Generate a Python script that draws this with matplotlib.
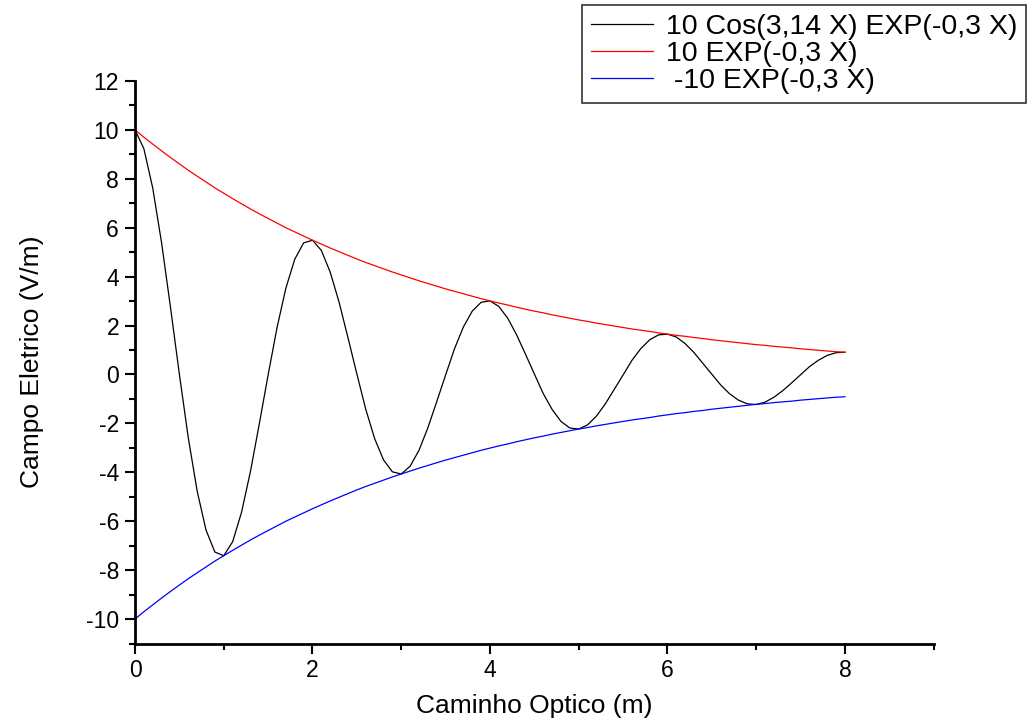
import numpy as np
import matplotlib.pyplot as plt

plt.rcParams['font.family'] = ['Liberation Sans', 'DejaVu Sans']
plt.rcParams['axes.unicode_minus'] = False

# Dados: caminho optico de 0 a 8 m, passo 0,1
x = np.linspace(0, 8, 81)

campo = [10.00, 9.23, 7.62, 5.37, 2.74, 0.01, -2.58, -4.76, -6.36, -7.26,
         -7.41, -6.84, -5.64, -3.98, -2.03, -0.02, 1.91, 3.53, 4.71, 5.38,
         5.49, 5.07, 4.18, 2.95, 1.50, 0.02, -1.42, -2.62, -3.49, -3.98,
         -4.07, -3.75, -3.10, -2.18, -1.11, -0.02, 1.05, 1.94, 2.59, 2.95,
         3.01, 2.78, 2.30, 1.62, 0.83, 0.02, -0.78, -1.43, -1.92, -2.19,
         -2.23, -2.06, -1.70, -1.20, -0.61, -0.02, 0.58, 1.06, 1.42, 1.62,
         1.65, 1.53, 1.26, 0.89, 0.45, 0.01, -0.43, -0.79, -1.05, -1.20,
         -1.23, -1.13, -0.93, -0.66, -0.34, -0.01, 0.32, 0.58, 0.78, 0.89,
         0.91]

envelope = [10.00, 9.70, 9.42, 9.14, 8.87, 8.61, 8.35, 8.11, 7.87, 7.63,
            7.41, 7.19, 6.98, 6.77, 6.57, 6.38, 6.19, 6.00, 5.83, 5.66,
            5.49, 5.33, 5.17, 5.02, 4.87, 4.72, 4.58, 4.45, 4.32, 4.19,
            4.07, 3.95, 3.83, 3.72, 3.61, 3.50, 3.40, 3.30, 3.20, 3.10,
            3.01, 2.92, 2.84, 2.75, 2.67, 2.59, 2.52, 2.44, 2.37, 2.30,
            2.23, 2.17, 2.10, 2.04, 1.98, 1.92, 1.86, 1.81, 1.76, 1.70,
            1.65, 1.60, 1.56, 1.51, 1.47, 1.42, 1.38, 1.34, 1.30, 1.26,
            1.22, 1.19, 1.15, 1.12, 1.09, 1.05, 1.02, 0.99, 0.96, 0.93,
            0.91]
envelope_neg = [-v for v in envelope]

labels = ['10 Cos(3,14 X) EXP(-0,3 X)', '10 EXP(-0,3 X)', ' -10 EXP(-0,3 X)']

fig = plt.figure(figsize=(10.29, 7.25), dpi=100)
ax = fig.add_axes([0.1312, 0.1124, 0.7762, 0.7759])

l1, = ax.plot(x, campo, color='black', linewidth=0.9)
l2, = ax.plot(x, envelope, color='red', linewidth=0.9)
l3, = ax.plot(x, envelope_neg, color='blue', linewidth=0.9)

ax.set_xlim(0, 9)
ax.set_ylim(-11, 12)
ax.set_xticks([0, 2, 4, 6, 8])
ax.set_xticks(range(0, 10), minor=True)
ax.set_yticks(range(-10, 13, 2))
ax.set_yticks(range(-11, 13), minor=True)

for s in ['top', 'right']:
    ax.spines[s].set_visible(False)
for s in ['left', 'bottom']:
    ax.spines[s].set_linewidth(2)

ax.tick_params(which='major', direction='out', length=7.5, width=1.5,
               labelsize=16.5, pad=4)
ax.tick_params(which='minor', direction='out', length=4, width=1.5)

ax.set_xlabel('Caminho Optico (m)', fontsize=19, labelpad=8)
ax.set_ylabel('Campo Eletrico (V/m)', fontsize=19, labelpad=30)

leg = fig.legend([l1, l2, l3], labels, loc='upper right',
                 bbox_to_anchor=(0.997, 0.993), fontsize=20.5, frameon=True,
                 fancybox=False, edgecolor='black', handlelength=2.2,
                 handletextpad=0.45, borderaxespad=0, labelspacing=0.05,
                 borderpad=0.3)
leg.get_frame().set_linewidth(1.2)

fig.savefig('out.png', dpi=100)
